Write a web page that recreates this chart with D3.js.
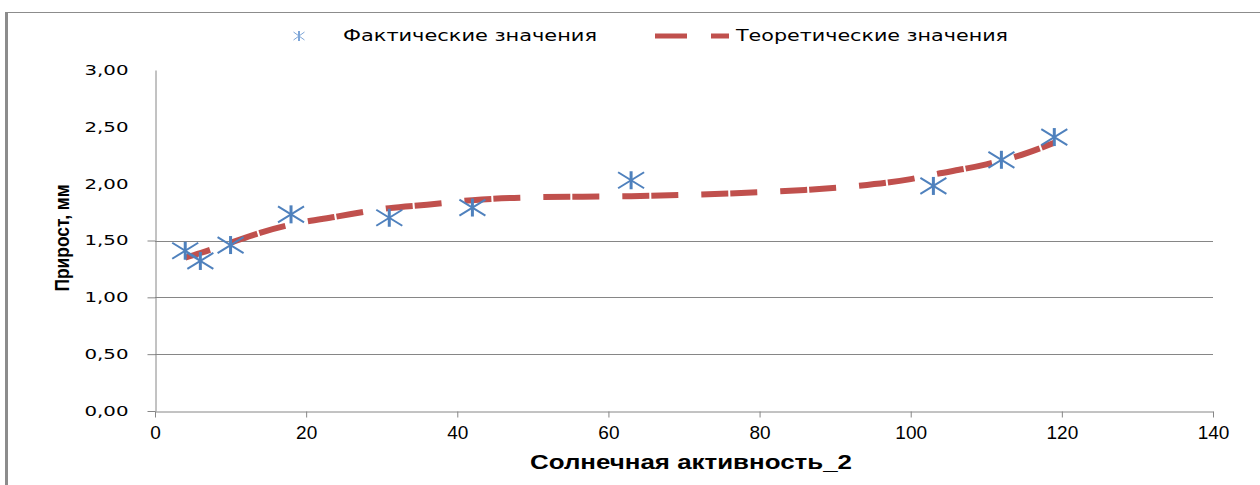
<!DOCTYPE html>
<html>
<head>
<meta charset="utf-8">
<script src="https://cdn.jsdelivr.net/npm/d3@7"></script>
<style>
  body { margin: 0; background: #fff; }
</style>
</head>
<body>
<div id="chart"></div>
<script>
// фактические значения
var factX = [4, 6, 10, 18, 31, 42, 63, 103, 112, 119];
var factY = [1.41, 1.32, 1.46, 1.73, 1.70, 1.79, 2.03, 1.98, 2.21, 2.41];
// теоретическая кривая
var theoX = [4, 6, 10, 14, 18, 24, 31, 36, 42, 50, 63, 72, 80, 86, 93, 100, 103, 110, 114, 119];
var theoY = [1.35, 1.39, 1.48, 1.57, 1.64, 1.71, 1.785, 1.815, 1.855, 1.88, 1.89, 1.905, 1.925, 1.945, 1.98, 2.04, 2.08, 2.17, 2.24, 2.36];
var xTicks = [0, 20, 40, 60, 80, 100, 120, 140];
var yTicks = [0, 0.5, 1, 1.5, 2, 2.5, 3];
var gridTicks = [0.5, 1, 1.5]; // в оригинале видны только нижние линии сетки
var legendLabels = ["Фактические значения", "Теоретические значения"];
var xTitle = "Солнечная активность_2";
var yTitle = "Прирост, мм";

var width = 1260, height = 485;
var margin = { top: 70, right: 47, bottom: 74, left: 155 };
var blue = "#4F81BD", red = "#C0504D", grey = "#868686";

var svg = d3.select("#chart").append("svg")
    .attr("width", width)
    .attr("height", height);

svg.append("rect").attr("width", width).attr("height", height).attr("fill", "#fff");

// рамка (видны только верх и левый край)
svg.append("line").attr("x1", 5).attr("x2", width).attr("y1", 12.5).attr("y2", 12.5)
    .attr("stroke", "#8c8c8c").attr("stroke-width", 1);
svg.append("line").attr("x1", 6.5).attr("x2", 6.5).attr("y1", 12).attr("y2", height)
    .attr("stroke", "#8c8c8c").attr("stroke-width", 3);

var x = d3.scaleLinear().domain([0, 140]).range([margin.left, width - margin.right]);
var y = d3.scaleLinear().domain([0, 3]).range([height - margin.bottom, margin.top]);

// сетка
svg.selectAll(".grid")
    .data(gridTicks)
    .enter().append("line")
    .attr("x1", x(0)).attr("x2", x(140))
    .attr("y1", d => Math.round(y(d)) + 0.5).attr("y2", d => Math.round(y(d)) + 0.5)
    .attr("stroke", grey);

// ось Y
var yAxis = svg.append("g")
    .attr("transform", "translate(" + (x(0) + 0.5) + ",0)")
    .call(d3.axisLeft(y).tickValues(yTicks).tickSize(0).tickPadding(27)
        .tickFormat(d => d3.format(".2f")(d).replace(".", ",")));
yAxis.attr("font-size", 14).attr("font-family", "DejaVu Sans");
yAxis.select(".domain").attr("stroke", grey);
yAxis.selectAll("text")
    .attr("fill", "#000")
    .attr("textLength", 44)
    .attr("lengthAdjust", "spacingAndGlyphs");
yAxis.selectAll(".tick").filter(d => d <= 1.5).append("line")
    .attr("x1", -8).attr("x2", 0).attr("stroke", grey);

// ось X
var xAxis = svg.append("g")
    .attr("transform", "translate(0," + (Math.round(y(0)) + 0.5) + ")")
    .call(d3.axisBottom(x).tickValues(xTicks).tickSizeOuter(0).tickSizeInner(6).tickPadding(8));
xAxis.attr("font-size", 19).attr("font-family", "Liberation Sans");
xAxis.select(".domain").attr("stroke", grey);
xAxis.selectAll(".tick line").attr("stroke", grey);
xAxis.selectAll(".tick text").attr("fill", "#000");

// подписи осей
svg.append("text")
    .attr("x", 691).attr("y", 469)
    .attr("text-anchor", "middle")
    .attr("font-family", "Liberation Sans")
    .attr("font-weight", "bold")
    .attr("font-size", 21)
    .attr("textLength", 322)
    .attr("lengthAdjust", "spacingAndGlyphs")
    .text(xTitle);

svg.append("text")
    .attr("transform", "translate(69,238) rotate(-90)")
    .attr("text-anchor", "middle")
    .attr("font-family", "Liberation Sans")
    .attr("font-weight", "bold")
    .attr("font-size", 21)
    .attr("textLength", 107)
    .attr("lengthAdjust", "spacingAndGlyphs")
    .text(yTitle);

// теоретическая линия
var theo = theoX.map((d, i) => [d, theoY[i]]);
var line = d3.line()
    .x(d => x(d[0]))
    .y(d => y(d[1]))
    .curve(d3.curveMonotoneX);

svg.append("path")
    .datum(theo)
    .attr("d", line)
    .attr("fill", "none")
    .attr("stroke", red)
    .attr("stroke-width", 6)
    .attr("stroke-dasharray", "27 2 27 23")
    .attr("stroke-dashoffset", 30);

// маркер-звёздочка
function star(g, w, h, vh, sw) {
    g.append("line").attr("x1", -w).attr("y1", -h).attr("x2", w).attr("y2", h);
    g.append("line").attr("x1", -w).attr("y1", h).attr("x2", w).attr("y2", -h);
    g.append("line").attr("x1", 0).attr("y1", -vh).attr("x2", 0).attr("y2", vh)
        .attr("stroke-width", sw + 1);
    g.attr("stroke", blue).attr("stroke-width", sw);
}

var fact = factX.map((d, i) => [d, factY[i]]);
svg.selectAll(".pt")
    .data(fact)
    .enter().append("g")
    .attr("class", "pt")
    .attr("transform", d => "translate(" + x(d[0]) + "," + y(d[1]) + ")")
    .each(function () { star(d3.select(this), 13, 8, 9, 2); });

// легенда
var leg1 = svg.append("g").attr("transform", "translate(299,36)");
star(leg1, 5.5, 4, 5, 1);
leg1.attr("stroke", "#7EA6D8");
svg.append("text")
    .attr("x", 343).attr("y", 41)
    .attr("font-family", "DejaVu Sans")
    .attr("font-size", 15)
    .attr("textLength", 254)
    .attr("lengthAdjust", "spacingAndGlyphs")
    .text(legendLabels[0]);

svg.append("line")
    .attr("x1", 655).attr("x2", 729).attr("y1", 36).attr("y2", 36)
    .attr("stroke", red).attr("stroke-width", 5)
    .attr("stroke-dasharray", "32 24");
svg.append("text")
    .attr("x", 736).attr("y", 41)
    .attr("font-family", "DejaVu Sans")
    .attr("font-size", 15)
    .attr("textLength", 272)
    .attr("lengthAdjust", "spacingAndGlyphs")
    .text(legendLabels[1]);
</script>
</body>
</html>
